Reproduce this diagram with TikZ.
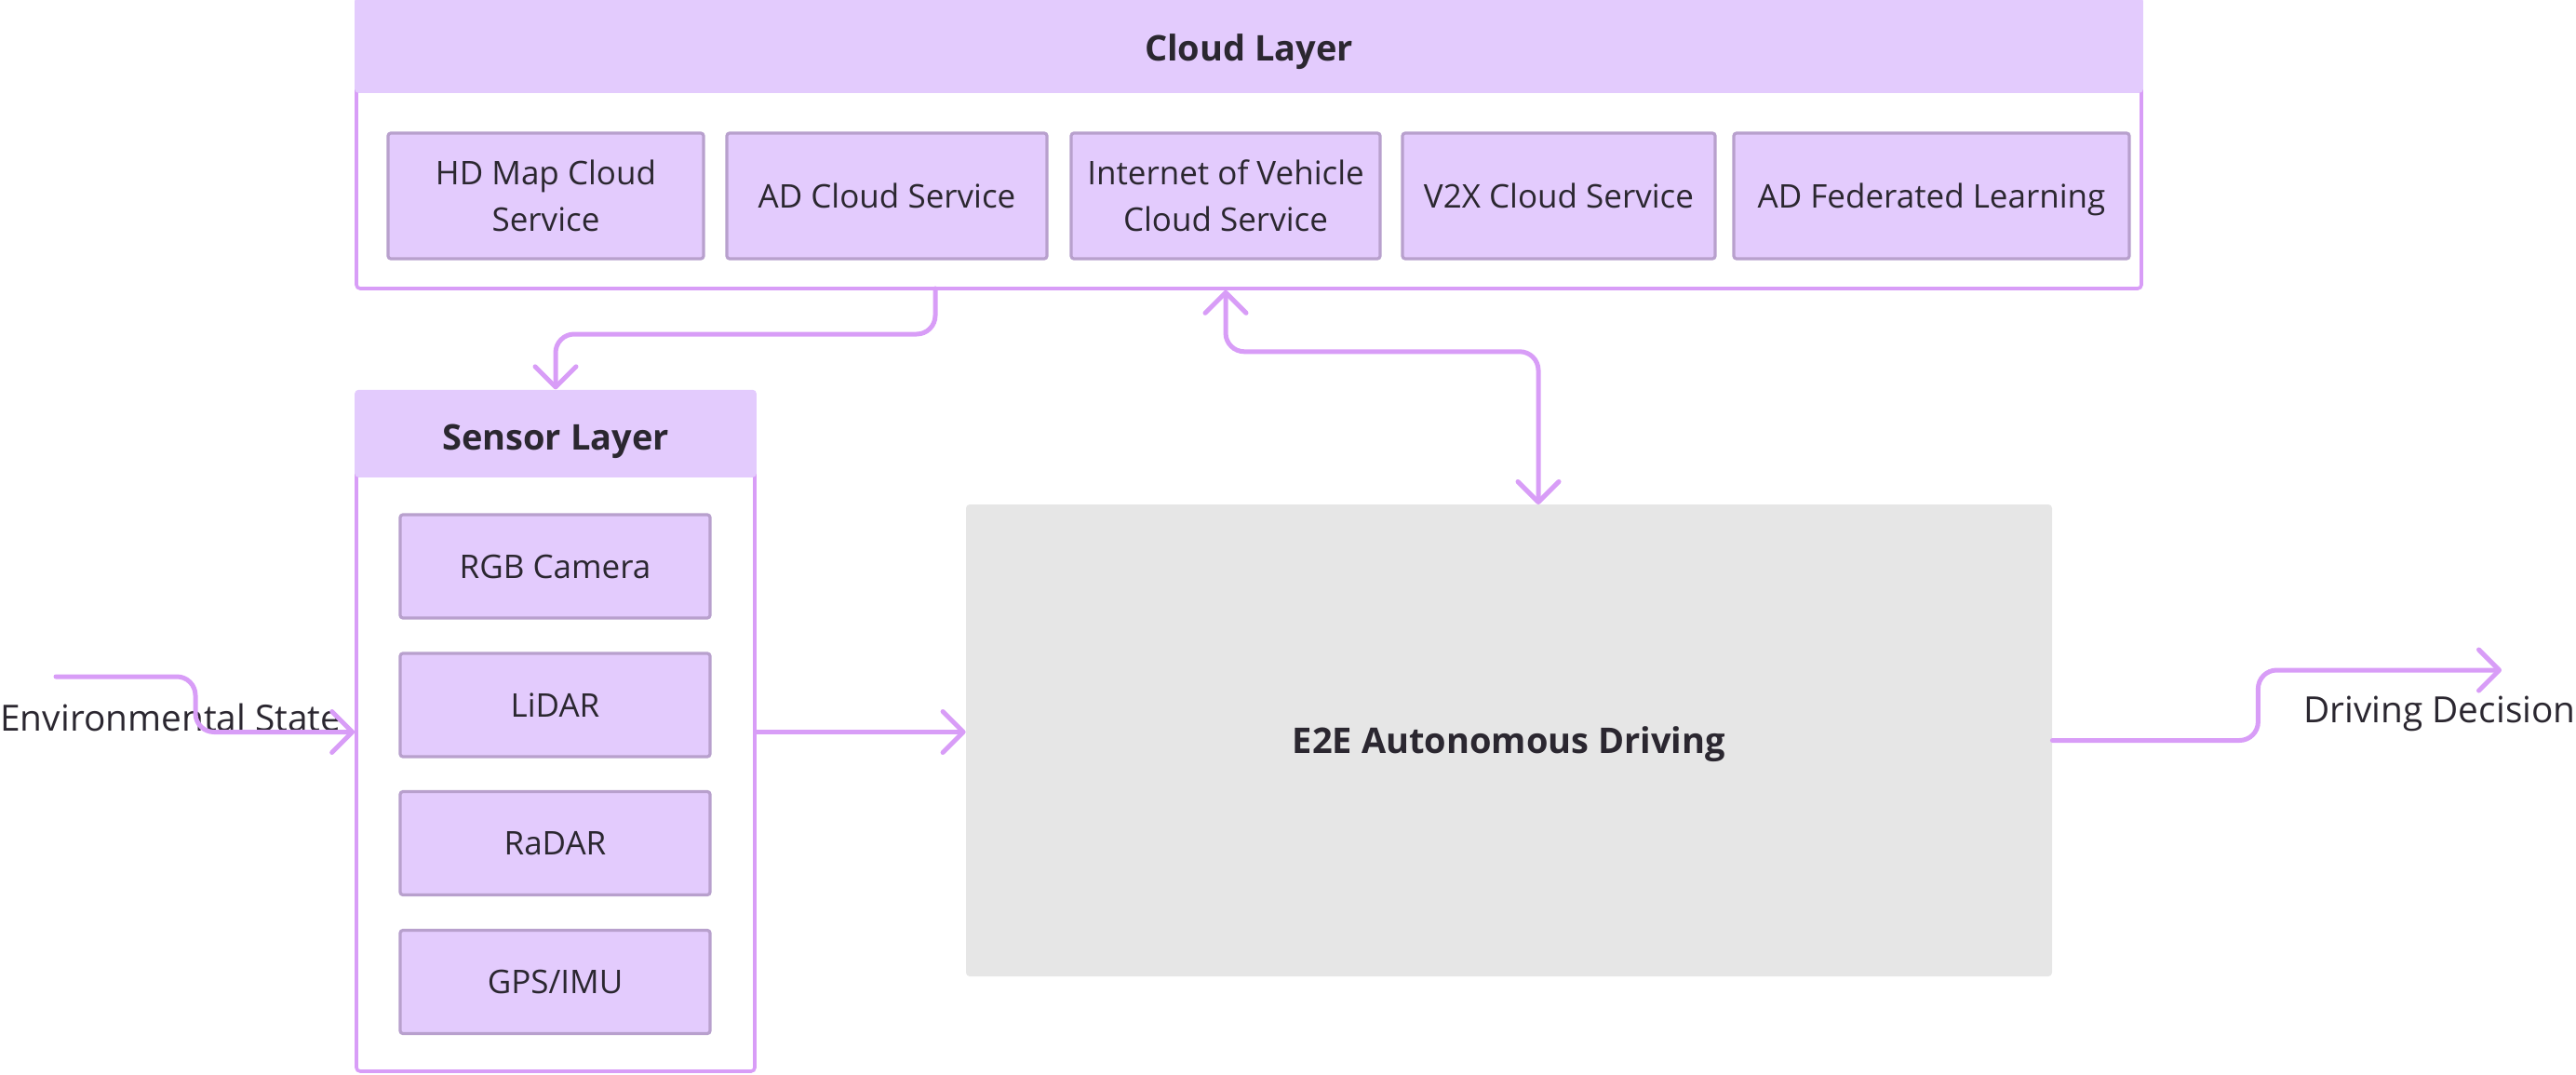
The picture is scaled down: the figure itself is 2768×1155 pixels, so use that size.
\documentclass[tikz,border=0pt]{standalone}
\usepackage{fontspec}
\setmainfont{Open Sans}
\usetikzlibrary{arrows.meta}

\definecolor{headfill}{HTML}{E3CBFD}
\definecolor{layerline}{HTML}{D89DF7}
\definecolor{unitline}{HTML}{B8A0CD}
\definecolor{boxgray}{HTML}{E6E6E6}
\definecolor{ink}{HTML}{2B2730}

\tikzset{
  barb/.tip={Straight Barb[length=11pt, width=22pt, round]},
  layerbox/.style={draw=layerline, line width=1.8pt, rounded corners=2pt, fill=white},
  layerhead/.style={fill=headfill, rounded corners=2pt, text=ink,
    text height=17.4pt, text depth=0pt,
    font=\bfseries\fontsize{19}{22}\selectfont},
  unitbox/.style={draw=unitline, fill=headfill, line width=1.6pt, rounded corners=1.5pt,
    align=center, text=ink, minimum height=67.5pt,
    font=\fontsize{17.5}{25}\selectfont},
  outlabel/.style={text=ink, font=\fontsize{19.4}{22}\selectfont},
  flow/.style={draw=layerline, line width=2.5pt, line cap=round, rounded corners=10pt, -barb},
}

\begin{document}
\begin{tikzpicture}[x=0.5pt, y=-0.5pt]
\useasboundingbox (0,0) rectangle (2768,1155);

% layers
\path (1342,155) node (cloud) [layerbox, minimum width=959pt, minimum height=155pt] {}
      (597,786.5) node (sensor) [layerbox, minimum width=214pt, minimum height=364.5pt] {}
      (1621.5,795.5) node (e2e) [fill=boxgray, rounded corners=2pt, text=ink,
        minimum width=583.5pt, minimum height=253.5pt, text depth=0pt,
        font=\bfseries\fontsize{19}{22}\selectfont] {E2E Autonomous Driving};
\node (cloudhead) [layerhead, anchor=north, minimum width=960.8pt, minimum height=51.5pt]
  at ([yshift=0.9pt]cloud.north) {Cloud Layer};
\node (sensorhead) [layerhead, anchor=north, minimum width=215.8pt, minimum height=47pt]
  at ([yshift=0.9pt]sensor.north) {Sensor Layer};

% cloud services
\path (586.5,210.5) node (hdmap) [unitbox, minimum width=169.5pt] {HD Map Cloud\\Service}
      (953,210.5) node (adcloud) [unitbox, minimum width=172pt] {AD Cloud Service}
      (1317,210.5) node (iov) [unitbox, minimum width=166pt] {Internet of Vehicle\\Cloud Service}
      (1675,210.5) node (v2x) [unitbox, minimum width=168pt] {V2X Cloud Service}
      (2075.5,210.5) node (fedlearn) [unitbox, minimum width=212.5pt, text depth=0pt] {AD Federated Learning};

% sensors
\path (596.5,608.5) node (rgb) [unitbox, minimum width=166.5pt, minimum height=55.5pt] {RGB Camera}
      (596.5,757.5) node (lidar) [unitbox, minimum width=166.5pt, minimum height=55.5pt] {LiDAR}
      (596.5,906) node (radar) [unitbox, minimum width=166.5pt, minimum height=55.5pt] {RaDAR}
      (596.5,1055) node (gps) [unitbox, minimum width=166.5pt, minimum height=55.5pt] {GPS/IMU};

% outside labels
\path (0,785) node (envlabel) [outlabel, anchor=base west, inner sep=0pt] {Environmental State}
      (2768,776) node (decision) [outlabel, anchor=base east, inner sep=0pt] {Driving Decision};

\coordinate (cloudout) at (1005,310);
\coordinate (envin) at (60,727);
\coordinate (iovdrop) at (1653,542);
\coordinate (decisionend) at (2688,720);

% connectors
\draw [flow] (cloudout) -- ++(0,49) -| (sensorhead.north);
\draw [flow, barb-barb] (iov.south |- cloud.south) -- ++(0,66) -| (iovdrop);
\draw [flow] (envin) -- ++(150,0) |- (sensor.west);
\draw [flow] (sensor.east) -- (sensor.east -| e2e.west);
\draw [flow] (e2e.east) -- ++(221,0) |- (decisionend);
\end{tikzpicture}
\end{document}
